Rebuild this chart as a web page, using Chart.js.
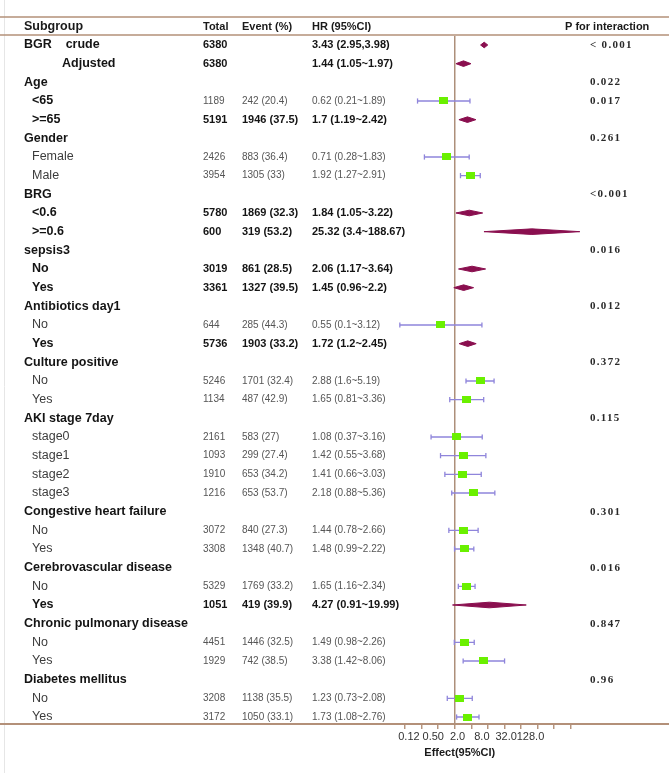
<!DOCTYPE html>
<html><head><meta charset="utf-8">
<script src="https://cdn.jsdelivr.net/npm/chart.js@4.4.1/dist/chart.umd.min.js"></script>
<style>html,body{margin:0;padding:0;background:#fff;}canvas{display:block;}</style>
</head><body>
<canvas id="c" width="669" height="773"></canvas>
<script>
// ---------------- data ----------------
const labels = ['BGR    crude','Adjusted','Age','<65','>=65','Gender','Female','Male','BRG','<0.6','>=0.6',
  'sepsis3','No','Yes','Antibiotics day1','No','Yes','Culture positive','No','Yes','AKI stage 7day',
  'stage0','stage1','stage2','stage3','Congestive heart failure','No','Yes','Cerebrovascular disease','No','Yes',
  'Chronic pulmonary disease','No','Yes','Diabetes mellitus','No','Yes'];
const rowType = ['group','adjusted','group','sub','sub','group','sub','sub','group','sub','sub',
  'group','sub','sub','group','sub','sub','group','sub','sub','group',
  'sub','sub','sub','sub','group','sub','sub','group','sub','sub',
  'group','sub','sub','group','sub','sub'];
const totals = ['6380','6380','','1189','5191','','2426','3954','','5780','600',
  '','3019','3361','','644','5736','','5246','1134','',
  '2161','1093','1910','1216','','3072','3308','','5329','1051',
  '','4451','1929','','3208','3172'];
const events = ['','','','242 (20.4)','1946 (37.5)','','883 (36.4)','1305 (33)','','1869 (32.3)','319 (53.2)',
  '','861 (28.5)','1327 (39.5)','','285 (44.3)','1903 (33.2)','','1701 (32.4)','487 (42.9)','',
  '583 (27)','299 (27.4)','653 (34.2)','653 (53.7)','','840 (27.3)','1348 (40.7)','','1769 (33.2)','419 (39.9)',
  '','1446 (32.5)','742 (38.5)','','1138 (35.5)','1050 (33.1)'];
const hrText = ['3.43 (2.95,3.98)','1.44 (1.05~1.97)','','0.62 (0.21~1.89)','1.7 (1.19~2.42)','','0.71 (0.28~1.83)','1.92 (1.27~2.91)','','1.84 (1.05~3.22)','25.32 (3.4~188.67)',
  '','2.06 (1.17~3.64)','1.45 (0.96~2.2)','','0.55 (0.1~3.12)','1.72 (1.2~2.45)','','2.88 (1.6~5.19)','1.65 (0.81~3.36)','',
  '1.08 (0.37~3.16)','1.42 (0.55~3.68)','1.41 (0.66~3.03)','2.18 (0.88~5.36)','','1.44 (0.78~2.66)','1.48 (0.99~2.22)','','1.65 (1.16~2.34)','4.27 (0.91~19.99)',
  '','1.49 (0.98~2.26)','3.38 (1.42~8.06)','','1.23 (0.73~2.08)','1.73 (1.08~2.76)'];
const hr = [3.43,1.44,null,0.62,1.7,null,0.71,1.92,null,1.84,25.32,null,2.06,1.45,null,0.55,1.72,null,2.88,1.65,null,
  1.08,1.42,1.41,2.18,null,1.44,1.48,null,1.65,4.27,null,1.49,3.38,null,1.23,1.73];
const lo = [2.95,1.05,null,0.21,1.19,null,0.28,1.27,null,1.05,3.4,null,1.17,0.96,null,0.1,1.2,null,1.6,0.81,null,
  0.37,0.55,0.66,0.88,null,0.78,0.99,null,1.16,0.91,null,0.98,1.42,null,0.73,1.08];
const hi = [3.98,1.97,null,1.89,2.42,null,1.83,2.91,null,3.22,188.67,null,3.64,2.2,null,3.12,2.45,null,5.19,3.36,null,
  3.16,3.68,3.03,5.36,null,2.66,2.22,null,2.34,19.99,null,2.26,8.06,null,2.08,2.76];
const summaryRows = [0,1,4,9,10,12,13,16,30];   // drawn as diamonds, bold text
const boldLabelRows = [0,1,3,4,9,10,12,13,16,30];
const pValues = ['< 0.001','','0.022','0.017','','0.261','','','<0.001','','',
  '0.016','','','0.012','','','0.372','','','0.115',
  '','','','','0.301','','','0.016','','',
  '0.847','','','0.96','',''];
const tickValues = [0.125,0.25,0.5,1,2,4,8,16,32,64,128];
const labelValues = [0.125,0.5,2,8,32,128];
const tickLabels = ['0.12','0.50','2.0','8.0','32.0','128.0'];
const headers = ['Subgroup','Total','Event (%)','HR (95%CI)','P for interaction'];
const axisTitle = 'Effect(95%CI)';

// ---------------- styling ----------------
const SANS = '"Liberation Sans", Arial, Helvetica, sans-serif';
const SERIF = '"Liberation Serif", "Times New Roman", serif';
const GREEN = '#6af000', PURPLE = '#8f85db', MAROON = '#8a0f4f';
const BROWN = '#b39079', REF = '#ad8f7a';

// square marker
const sq = document.createElement('canvas');
sq.width = 9; sq.height = 7;
{ const g = sq.getContext('2d'); g.fillStyle = GREEN; g.fillRect(0,0,9,7); }

const squareData = [], ciData = [];
const diamondSets = [];
hr.forEach((v, r) => {
  if (v === null) return;
  if (summaryRows.includes(r)) {
    const h = 0.15;
    diamondSets.push({
      type: 'line', order: 0,
      data: [{x: lo[r], y: r}, {x: v, y: r - h}, {x: hi[r], y: r}, {x: v, y: r + h}, {x: lo[r], y: r}],
      borderColor: MAROON, backgroundColor: MAROON, borderWidth: 1, fill: 'shape',
      pointRadius: 0, tension: 0
    });
  } else {
    squareData.push({x: v, y: r});
    ciData.push({x: lo[r], y: r}, {x: hi[r], y: r}, {x: null, y: null});
  }
});

const yMin = -0.482, yMax = 36.375;
const xMin = Math.pow(2, -3.6145), xMax = Math.pow(2, 12.59);
const xlMin = Math.pow(2, -4.1475), xlMax = Math.pow(2, 17.9016);

const tablePlugin = {
  id: 'table',
  beforeDraw(chart) {
    const ctx = chart.ctx;
    ctx.save();
    ctx.fillStyle = '#fff';
    ctx.fillRect(0, 0, chart.width, chart.height);
    ctx.strokeStyle = '#e6e6e6'; ctx.lineWidth = 1;
    ctx.beginPath(); ctx.moveTo(4.5, 0); ctx.lineTo(4.5, chart.height); ctx.stroke();
    ctx.strokeStyle = BROWN; ctx.lineWidth = 1.6;
    [17, 35].forEach(yy => { ctx.beginPath(); ctx.moveTo(0, yy); ctx.lineTo(chart.width, yy); ctx.stroke(); });
    ctx.lineWidth = 2;
    const yb = chart.chartArea.bottom;
    ctx.beginPath(); ctx.moveTo(0, yb); ctx.lineTo(chart.width, yb); ctx.stroke();
    ctx.restore();
  },
  afterDraw(chart) {
    const ctx = chart.ctx, ys = chart.scales.y, xs = chart.scales.x;
    ctx.save();
    ctx.textBaseline = 'middle';
    ctx.textAlign = 'left';
    // header
    ctx.fillStyle = '#1a1a1a';
    ctx.font = 'bold 12.5px ' + SANS;
    ctx.fillText(headers[0], 24, 27);
    ctx.font = 'bold 11px ' + SANS;
    ctx.fillText(headers[1], 203, 27);
    ctx.fillText(headers[2], 242, 27);
    ctx.fillText(headers[3], 312, 27);
    ctx.fillText(headers[4], 565, 27);
    labels.forEach((lab, r) => {
      const py = ys.getPixelForValue(r);
      const t = rowType[r];
      const lx = t === 'group' ? 24 : (t === 'adjusted' ? 62 : 32);
      const lb = t === 'group' || boldLabelRows.includes(r);
      ctx.font = (lb ? 'bold ' : '') + '12.5px ' + SANS;
      ctx.fillStyle = lb ? '#141414' : '#3c3c3c';
      ctx.fillText(lab, lx, py);
      const nb = summaryRows.includes(r);
      ctx.font = nb ? 'bold 11px ' + SANS : '10px ' + SANS;
      ctx.fillStyle = nb ? '#141414' : '#555';
      if (totals[r]) ctx.fillText(totals[r], 203, py);
      if (events[r]) ctx.fillText(events[r], 242, py);
      if (hrText[r]) ctx.fillText(hrText[r], 312, py);
      if (pValues[r]) {
        ctx.font = 'bold 11px ' + SERIF;
        ctx.fillStyle = '#2a2a2a';
        ctx.letterSpacing = '1.3px';
        ctx.fillText(pValues[r], 590, py);
        ctx.letterSpacing = '0px';
      }
    });
    // axis title
    ctx.font = 'bold 11px ' + SANS;
    ctx.fillStyle = '#1a1a1a';
    ctx.textAlign = 'center';
    ctx.fillText(axisTitle, xs.getPixelForValue(1) + 5, 753);
    ctx.restore();
  }
};

new Chart(document.getElementById('c'), {
  type: 'line',
  data: {
    datasets: [
      { type: 'line', order: 0, data: squareData, showLine: false,
        pointStyle: sq, pointRadius: 5, pointHoverRadius: 5 },
      { type: 'line', order: 1, data: ciData, borderColor: PURPLE, borderWidth: 1.3, spanGaps: false,
        pointStyle: 'line', rotation: 90, pointRadius: 2.6, pointBorderColor: PURPLE, pointBorderWidth: 1.3,
        pointBackgroundColor: PURPLE, fill: false, tension: 0 },
      ...diamondSets
    ]
  },
  options: {
    responsive: false, animation: false, events: [],
    layout: { padding: { left: 395, right: 5, top: 36, bottom: 0 } },
    plugins: { legend: { display: false }, tooltip: { enabled: false } },
    scales: {
      x: {
        type: 'logarithmic', position: 'bottom', weight: 0, bounds: 'data',
        min: xMin, max: xMax,
        afterBuildTicks: s => { s.ticks = tickValues.map(v => ({ value: v })); },
        afterFit: s => { s.height = 5; },
        grid: {
          display: true, drawOnChartArea: true, drawTicks: true, tickLength: 5,
          color: c => (c.tick && c.tick.value === 1) ? REF : 'rgba(0,0,0,0)',
          tickColor: BROWN, lineWidth: 1.5, tickWidth: 1.4
        },
        border: { display: false },
        ticks: { display: false }
      },
      xl: {
        type: 'logarithmic', position: 'bottom', weight: 1, bounds: 'data',
        min: xlMin, max: xlMax,
        afterBuildTicks: s => { s.ticks = labelValues.map(v => ({ value: v })); },
        afterFit: s => { s.height = 44; },
        grid: { display: false, drawTicks: false },
        border: { display: false },
        ticks: {
          autoSkip: false, maxRotation: 0, minRotation: 0, padding: 1,
          font: { family: SANS, size: 11 }, color: '#333',
          callback: (v, i) => tickLabels[i]
        }
      },
      y: {
        type: 'linear', display: false, reverse: true, bounds: 'data',
        min: yMin, max: yMax
      }
    }
  },
  plugins: [tablePlugin]
});
</script>
</body></html>
